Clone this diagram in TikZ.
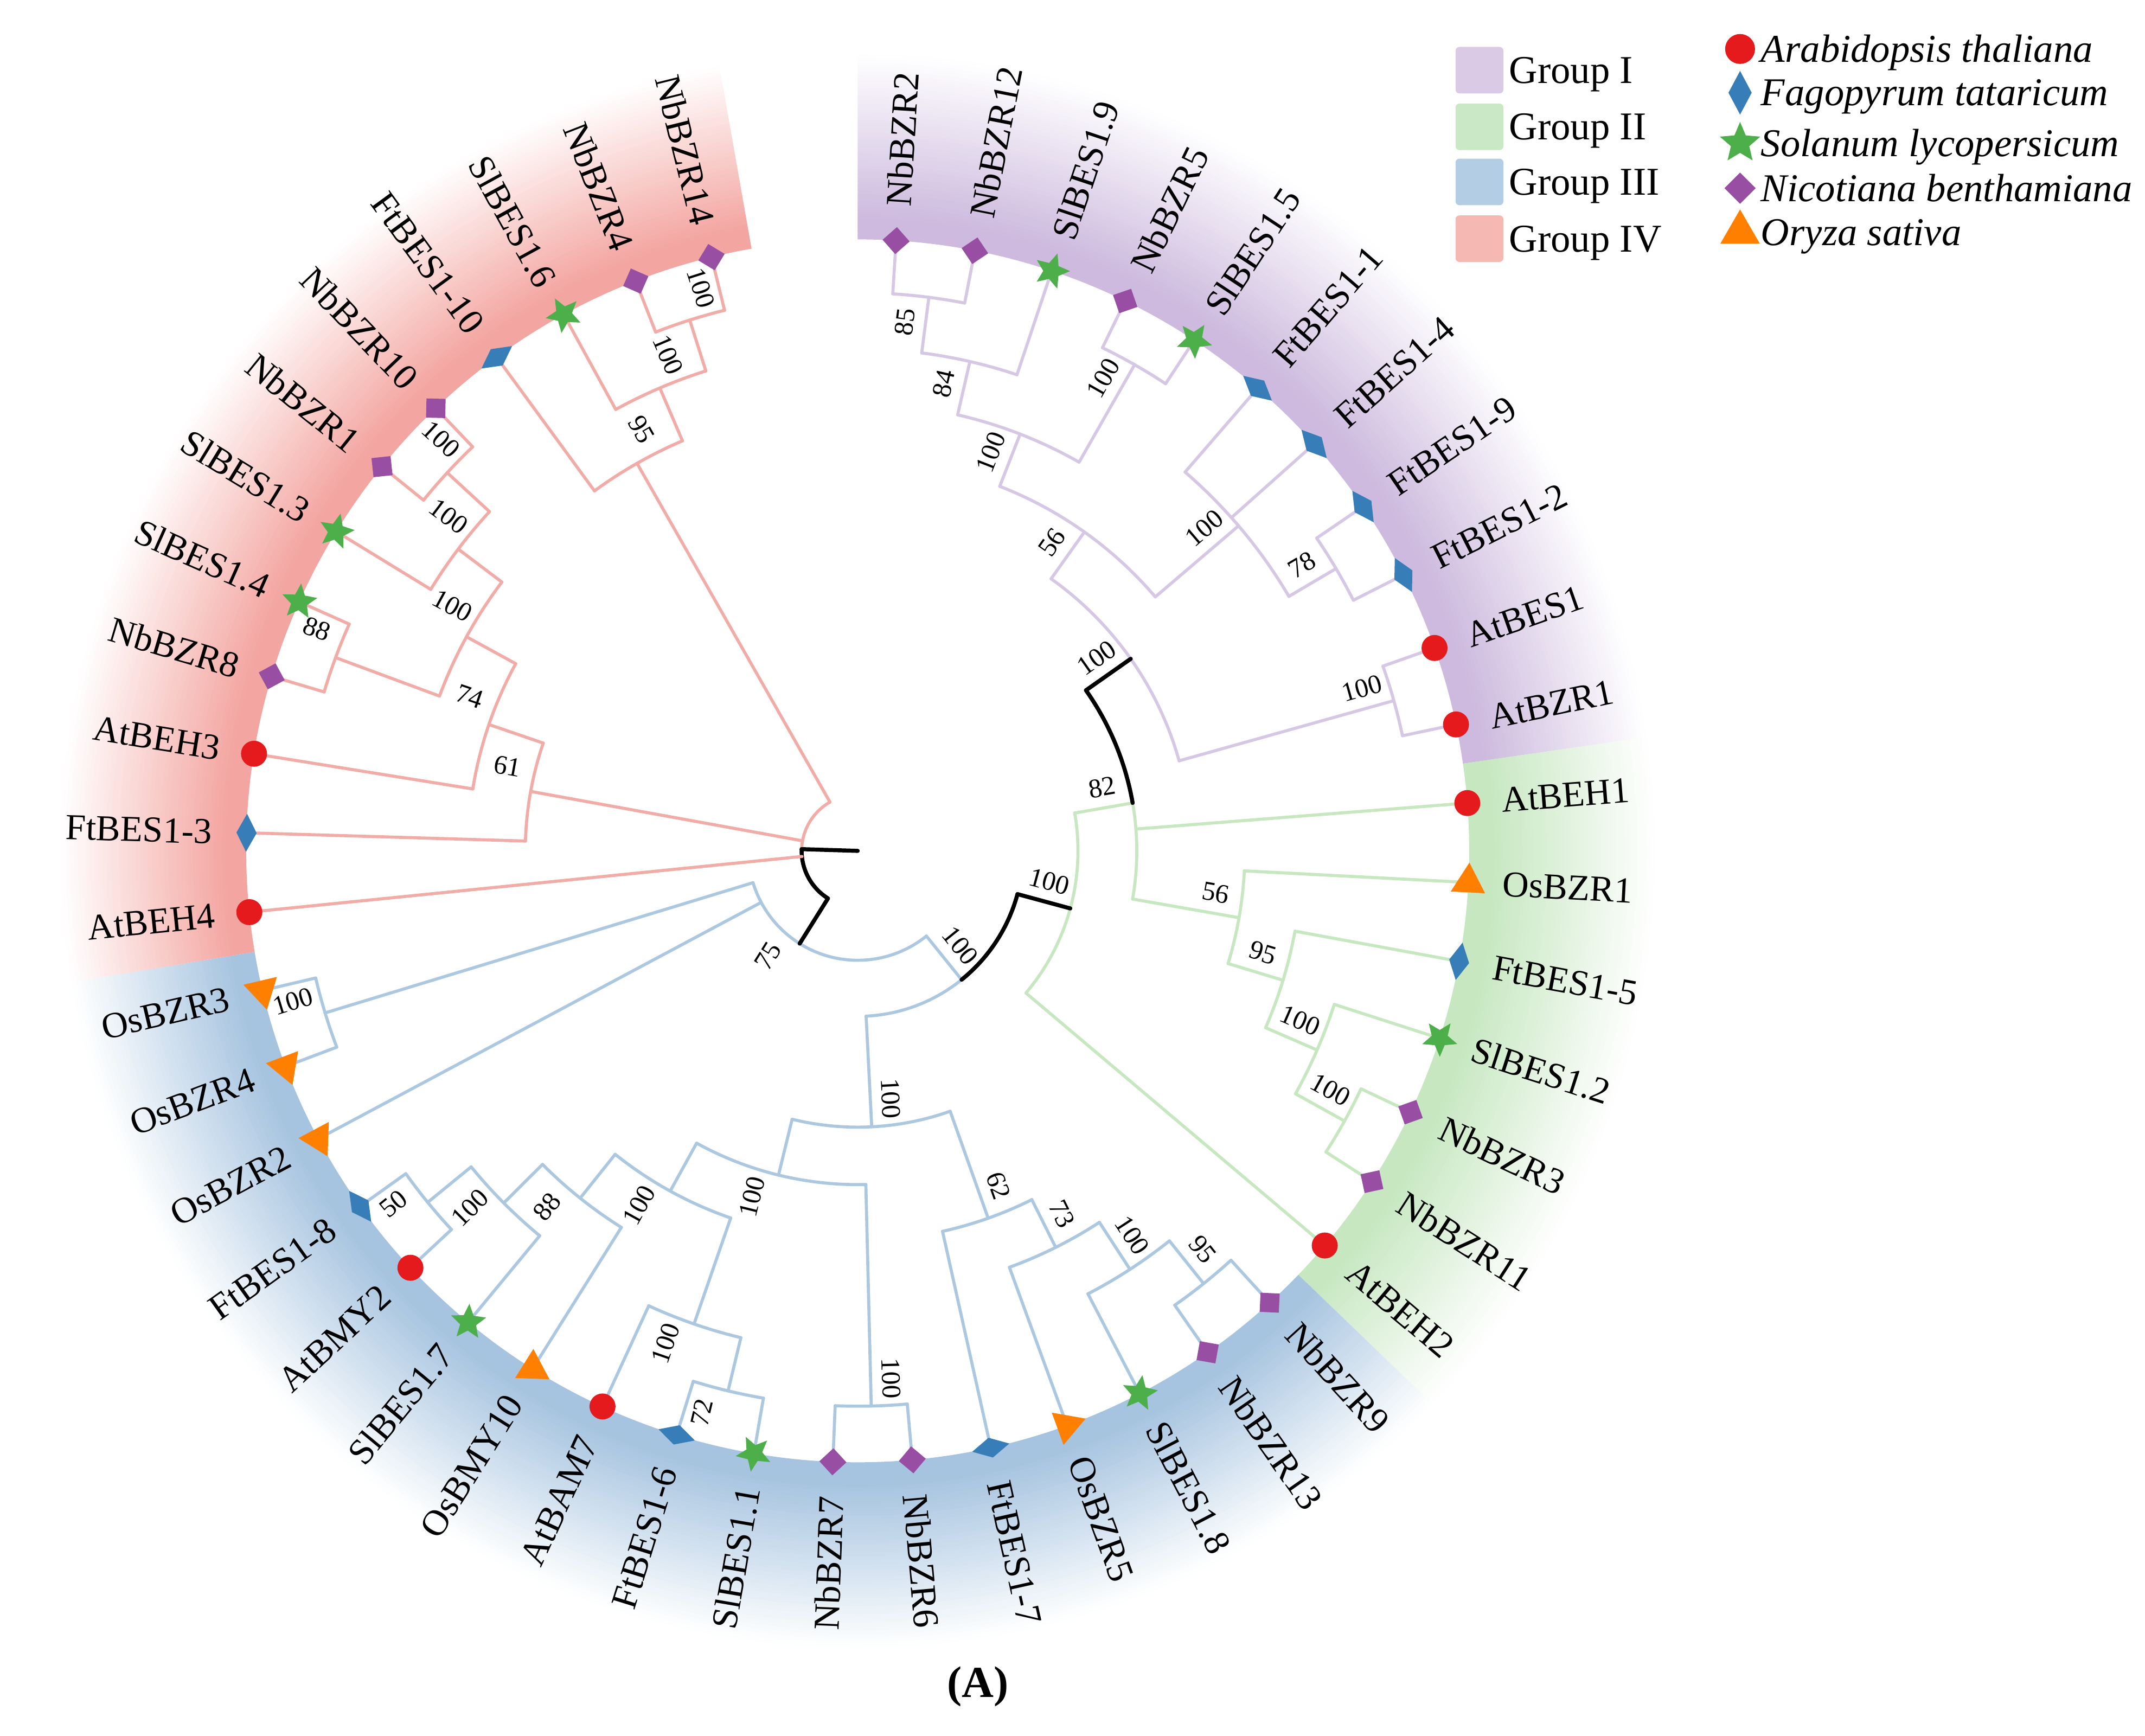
\documentclass[tikz,border=0pt]{standalone}
\usepackage{fontspec}
\setmainfont{Liberation Serif}
\usetikzlibrary{shapes.geometric}

\definecolor{cRed}{HTML}{E41A1C}
\definecolor{cBlue}{HTML}{377EB8}
\definecolor{cGreen}{HTML}{4DAF4A}
\definecolor{cPurple}{HTML}{984EA3}
\definecolor{cOrange}{HTML}{FF7F00}
\definecolor{bandI}{RGB}{205,186,222}
\definecolor{bandII}{RGB}{198,231,192}
\definecolor{bandIII}{RGB}{166,195,223}
\definecolor{bandIV}{RGB}{243,166,161}
\definecolor{lineI}{RGB}{214,200,229}
\definecolor{lineII}{RGB}{198,231,192}
\definecolor{lineIII}{RGB}{172,199,224}
\definecolor{lineIV}{RGB}{241,172,167}
\definecolor{swI}{RGB}{219,202,229}
\definecolor{swII}{RGB}{202,232,197}
\definecolor{swIII}{RGB}{178,205,228}
\definecolor{swIV}{RGB}{246,184,179}

\newcommand{\px}{0.025cm}

% coloured sector behind one group, fading outwards
\newcommand{\band}[3]{%
  \foreach \kk in {0,...,44}{%
    \pgfmathsetmacro{\ra}{447+3*\kk}%
    \pgfmathsetmacro{\rb}{\ra+3.6}%
    \pgfmathtruncatemacro{\pc}{min(100,112-2.5*\kk)}%
    \fill[#1!\pc!white] (#2:\ra) arc[start angle=#2, end angle=#3, radius=\ra]
      -- (#3:\rb) arc[start angle=#3, end angle=#2, radius=\rb] -- cycle;
  }}

% inner node: style, name, angle, radius, parent radius, first/last child angle, bootstrap
\newcommand{\clade}[8]{%
  \coordinate (#2) at (#3:#4);
  \draw[#1] (#6:#4) arc[start angle=#6, end angle=#7, radius=#4];
  \draw[#1] (#2) -- (#3:#5);
  \ifdim #3pt>-90pt \def\rh{#3}\else\pgfmathsetmacro{\rh}{#3+180}\fi
  \path (#2) ++(\rh+180:20) ++(\rh+90:15) node[boot, rotate=\rh] (b#2) {#8};
}

\tikzset{
  tI/.style={draw=lineI, line width=1.6pt, line cap=round},
  tII/.style={draw=lineII, line width=1.6pt, line cap=round},
  tIII/.style={draw=lineIII, line width=1.6pt, line cap=round},
  tIV/.style={draw=lineIV, line width=1.6pt, line cap=round},
  tK/.style={draw=black, line width=2.1pt, line cap=round},
  leaf/.style={inner sep=0pt, font=\fontsize{19}{22}\selectfont},
  boot/.style={inner sep=0pt, font=\fontsize{14}{16}\selectfont},
  legtext/.style={inner sep=0pt, font=\fontsize{20.5}{24}\selectfont},
  mk/.style={inner sep=0pt, draw=none},
  mkAt/.style={mk, circle, fill=cRed, minimum size=19*\px},
  mkFt/.style={mk, diamond, fill=cBlue, minimum width=15*\px, minimum height=28*\px, rotate=\ang},
  mkSl/.style={mk, star, star points=5, star point ratio=2.2, fill=cGreen, minimum size=27*\px, rotate=\ang-90},
  mkNb/.style={mk, rectangle, fill=cPurple, minimum size=14*\px, rotate=\ang+45},
  mkOs/.style={mk, regular polygon, regular polygon sides=3, fill=cOrange, minimum size=29*\px, rotate=\ang},
}

\begin{document}
\begin{tikzpicture}[x=\px, y=\px]
  \useasboundingbox (-627,-647) rectangle (941,622);

  % group sectors
  \band{bandI}{90}{8.2}
  \band{bandII}{8.2}{-43.9}
  \band{bandIII}{-43.9}{-170.5}
  \band{bandIV}{-170.5}{-260}

  % Group I
  \clade{tI}{g1a}{82.677}{408}{367}{86.4}{78.953}{85}
  \clade{tI}{g1b}{77.091}{367}{327}{82.677}{71.506}{84}
  \clade{tI}{g1c}{60.336}{409}{327}{64.059}{56.612}{100}
  \clade{tI}{g1d}{68.714}{327}{286}{77.091}{60.336}{100}
  \clade{tI}{g1e}{30.548}{406}{366}{34.271}{26.824}{78}
  \clade{tI}{g1f}{40.477}{366}{286}{49.165}{30.548}{100}
  \clade{tI}{g1g}{54.595}{286}{244}{68.714}{40.477}{56}
  \clade{tI}{g1h}{15.654}{407}{244}{19.377}{11.930}{100}
  \clade{tI}{g1i}{35.125}{244}{204}{54.595}{15.654}{100}

  % Group II
  \clade{tII}{g2a}{-29.029}{407}{366}{-25.305}{-32.752}{100}
  \clade{tII}{g2b}{-23.443}{366}{325}{-17.858}{-29.029}{100}
  \clade{tII}{g2c}{-16.927}{325}{283}{-10.411}{-23.443}{95}
  \clade{tII}{g2d}{-9.946}{283}{204}{-2.964}{-16.927}{56}
  \clade{tII}{gX}{9.887}{204}{161}{35.125}{-9.946}{82}
  \clade{tII}{gW}{-15.156}{161}{121}{9.887}{-40.199}{100}

  % Group III
  \clade{tIII}{g3u}{-51.370}{405}{365}{-47.646}{-55.093}{95}
  \clade{tIII}{g3t}{-56.955}{365}{324}{-51.370}{-62.540}{100}
  \clade{tIII}{g3s}{-63.471}{324}{285}{-56.955}{-69.987}{73}
  \clade{tIII}{g3r}{-70.453}{285}{202}{-63.471}{-77.434}{62}
  \clade{tIII}{g3n}{-88.605}{406}{244}{-84.881}{-92.328}{100}
  \clade{tIII}{g3x}{-103.499}{406}{366}{-99.775}{-107.222}{72}
  \clade{tIII}{g3m4}{-109.084}{366}{284}{-103.499}{-114.669}{100}
  \clade{tIII}{g3f}{-140.734}{406}{365}{-137.010}{-144.457}{50}
  \clade{tIII}{g3m1}{-135.149}{365}{325}{-129.563}{-140.734}{100}
  \clade{tIII}{g3m2}{-128.633}{325}{284}{-122.116}{-135.149}{88}
  \clade{tIII}{g3m3}{-118.859}{284}{244}{-109.084}{-128.633}{100}
  \clade{tIII}{g3q}{-103.732}{244}{202}{-88.605}{-118.859}{100}
  \clade{tIII}{g3p}{-87.093}{202}{121}{-70.453}{-103.732}{100}
  \clade{tIII}{g3k}{-51.125}{121}{80}{-15.156}{-87.093}{100}
  \clade{tIII}{g3o}{-163.075}{407}{80}{-159.351}{-166.798}{100}
  \clade{tIII}{g3l}{-122.035}{80}{41}{-51.125}{-163.075}{75}

  % Group IV
  \clade{tIV}{g4a}{-252.439}{407}{368}{-248.715}{-256.162}{100}
  \clade{tIV}{g4b}{-246.854}{368}{326}{-241.268}{-252.439}{100}
  \clade{tIV}{g4c}{-240.338}{326}{41}{-233.821}{-246.854}{95}
  \clade{tIV}{g4n1}{-222.651}{408}{366}{-218.927}{-226.374}{100}
  \clade{tIV}{g4n2}{-217.066}{366}{326}{-211.480}{-222.651}{100}
  \clade{tIV}{g4e}{-200.310}{407}{326}{-196.586}{-204.033}{88}
  \clade{tIV}{g4n3}{-208.688}{326}{285}{-200.310}{-217.066}{100}
  \clade{tIV}{g4d}{-198.914}{285}{243}{-189.139}{-208.688}{74}
  \clade{tIV}{g4c2}{-190.303}{243}{41}{-181.692}{-198.914}{61}

  % backbone in black
  \coordinate (origin) at (0,0);
  \coordinate (root) at (-181.73:41);
  \draw[tIV] (root) arc[start angle=-181.73, end angle=-240.338, radius=41];
  \draw[tK] (-122.035:41) arc[start angle=-122.035, end angle=-181.73, radius=41];
  \draw[tK] (root) -- (origin);
  \draw[tK] (g3l) -- (-122.035:41);
  \draw[tK] (-15.156:121) arc[start angle=-15.156, end angle=-51.125, radius=121];
  \draw[tK] (gW) -- (-15.156:121);
  \draw[tK] (35.125:204) arc[start angle=35.125, end angle=9.887, radius=204];
  \draw[tK] (g1i) -- (35.125:204);

  % leaves: index/name/marker/parent radius/style
  \foreach \i/\nm/\mk/\pr/\st in {
    0/NbBZR2/mkNb/408/tI, 1/NbBZR12/mkNb/408/tI, 2/SlBES1.9/mkSl/367/tI,
    3/NbBZR5/mkNb/409/tI, 4/SlBES1.5/mkSl/409/tI, 5/FtBES1-1/mkFt/366/tI,
    6/FtBES1-4/mkFt/366/tI, 7/FtBES1-9/mkFt/406/tI, 8/FtBES1-2/mkFt/406/tI,
    9/AtBES1/mkAt/407/tI, 10/AtBZR1/mkAt/407/tI,
    11/AtBEH1/mkAt/204/tII, 12/OsBZR1/mkOs/283/tII, 13/FtBES1-5/mkFt/325/tII,
    14/SlBES1.2/mkSl/366/tII, 15/NbBZR3/mkNb/407/tII, 16/NbBZR11/mkNb/407/tII,
    17/AtBEH2/mkAt/161/tII,
    18/NbBZR9/mkNb/405/tIII, 19/NbBZR13/mkNb/405/tIII, 20/SlBES1.8/mkSl/365/tIII,
    21/OsBZR5/mkOs/324/tIII, 22/FtBES1-7/mkFt/285/tIII, 23/NbBZR6/mkNb/406/tIII,
    24/NbBZR7/mkNb/406/tIII, 25/SlBES1.1/mkSl/406/tIII, 26/FtBES1-6/mkFt/406/tIII,
    27/AtBAM7/mkAt/366/tIII, 28/OsBMY10/mkOs/325/tIII, 29/SlBES1.7/mkSl/365/tIII,
    30/AtBMY2/mkAt/406/tIII, 31/FtBES1-8/mkFt/406/tIII, 32/OsBZR2/mkOs/80/tIII,
    33/OsBZR4/mkOs/407/tIII, 34/OsBZR3/mkOs/407/tIII,
    35/AtBEH4/mkAt/41/tIV, 36/FtBES1-3/mkFt/243/tIV, 37/AtBEH3/mkAt/285/tIV,
    38/NbBZR8/mkNb/407/tIV, 39/SlBES1.4/mkSl/407/tIV, 40/SlBES1.3/mkSl/366/tIV,
    41/NbBZR1/mkNb/408/tIV, 42/NbBZR10/mkNb/408/tIV, 43/FtBES1-10/mkFt/326/tIV,
    44/SlBES1.6/mkSl/368/tIV, 45/NbBZR4/mkNb/407/tIV, 46/NbBZR14/mkNb/407/tIV} {
    \pgfmathsetmacro{\ang}{86.4-7.447*\i}
    \ifdim \ang pt>-90pt \def\rh{\ang}\def\anc{west}\else\pgfmathsetmacro{\rh}{\ang+180}\def\anc{east}\fi
    \coordinate (L\i) at (\ang:447);
    \draw[\st] (\ang:\pr) -- (L\i);
    \node[\mk] (M\i) at (L\i) {};
    \node[leaf, rotate=\rh, anchor=\anc] (T\i) at (\ang:472) {\nm};
  }

  % legend
  \foreach \y/\c/\t in {570.7/swI/Group I, 529.3/swII/Group II, 489/swIII/Group III, 447.5/swIV/Group IV} {
    \fill[\c, rounded corners=2pt] (437,\y-17) rectangle (472,\y+17);
    \node[legtext, anchor=base west] (leg\c) at (476,\y-9.5) {\t};
  }
  \foreach \y/\mk/\ang/\t [count=\n] in {586.2/mkAt/0/Arabidopsis thaliana,
      554.2/mkFt/0/Fagopyrum tataricum, 517.3/mkSl/90/Solanum lycopersicum,
      484.4/mkNb/0/Nicotiana benthamiana, 452.2/mkOs/0/Oryza sativa} {
    \node[\mk, scale=1.15] (sp\n) at (645,\y) {};
    \node[legtext, anchor=base west] (spt\n) at (660,\y-9.5) {\itshape\t};
  }

  \node[font=\bfseries\fontsize{23}{26}\selectfont] (capA) at (88,-611) {(A)};
\end{tikzpicture}
\end{document}
